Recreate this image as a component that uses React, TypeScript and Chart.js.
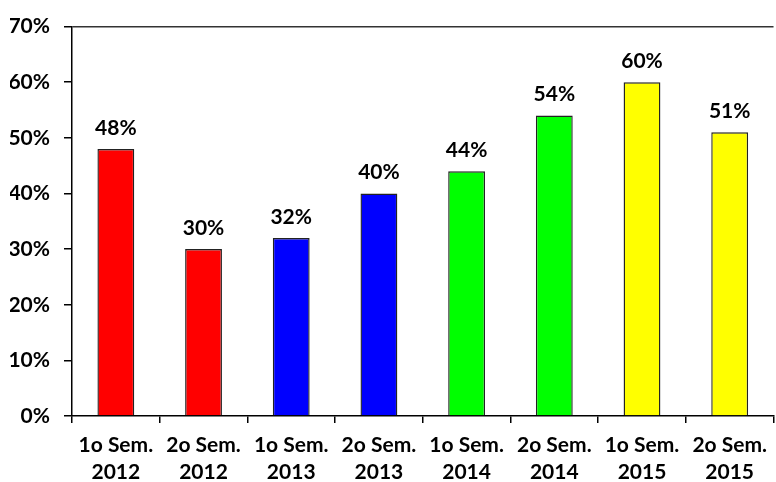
import React, { useEffect, useRef } from "react";
import { Chart, registerables } from "chart.js";

Chart.register(...registerables);

const categories: string[][] = [
  ["1o Sem.", "2012"],
  ["2o Sem.", "2012"],
  ["1o Sem.", "2013"],
  ["2o Sem.", "2013"],
  ["1o Sem.", "2014"],
  ["2o Sem.", "2014"],
  ["1o Sem.", "2015"],
  ["2o Sem.", "2015"],
];
const values: number[] = [48, 30, 32, 40, 44, 54, 60, 51];
const barColors: string[] = [
  "#FF0000", "#FF0000",
  "#0000FF", "#0000FF",
  "#00FF00", "#00FF00",
  "#FFFF00", "#FFFF00",
];
const yMax = 70;
const yStep = 10;

const FONT = "Lato, 'Open Sans', sans-serif";
const FSIZE = 21;

const valueLabels = {
  id: "valueLabels",
  afterDatasetsDraw(chart: any) {
    const { ctx } = chart;
    const meta = chart.getDatasetMeta(0);
    ctx.save();
    ctx.font = `bold ${FSIZE}px ${FONT}`;
    ctx.fillStyle = "#000";
    ctx.textAlign = "center";
    ctx.textBaseline = "middle";
    meta.data.forEach((bar: any, i: number) => {
      ctx.fillText(`${values[i]}%`, bar.x, bar.y - 21);
    });
    ctx.restore();
  },
};

export default function App() {
  const ref = useRef<HTMLCanvasElement | null>(null);
  useEffect(() => {
    if (!ref.current) return;
    const chart = new Chart(ref.current, {
      type: "bar",
      data: {
        labels: categories,
        datasets: [
          {
            data: values,
            backgroundColor: barColors,
            borderColor: "#222",
            borderWidth: 1.4,
            categoryPercentage: 1,
            barPercentage: 0.42,
          },
        ],
      },
      options: {
        animation: false,
        responsive: false,
        maintainAspectRatio: false,
        layout: { padding: { left: 10, right: 0, top: 24, bottom: 0 } },
        plugins: {
          legend: { display: false },
          tooltip: { enabled: false },
        },
        scales: {
          x: {
            afterFit: (s: any) => { s.height = 66; },
            grid: {
              display: true,
              drawOnChartArea: false,
              drawTicks: true,
              tickLength: 7,
              tickColor: "#000",
              lineWidth: 1.5,
              offset: true,
            },
            border: { display: true, color: "#000", width: 1.5 },
            ticks: {
              color: "#000",
              font: { family: FONT, size: FSIZE, weight: "bold", lineHeight: 27 / FSIZE },
              padding: 9,
              maxRotation: 0,
              autoSkip: false,
            },
          },
          y: {
            min: 0,
            max: yMax,
            afterFit: (s: any) => { s.width = 62; },
            grid: {
              color: (c: any) => (c.tick && c.tick.value === yMax ? "#333" : "rgba(0,0,0,0)"),
              drawTicks: true,
              tickLength: 8,
              tickColor: "#000",
              lineWidth: 1.5,
            },
            border: { display: true, color: "#000", width: 1.5 },
            ticks: {
              stepSize: yStep,
              color: "#000",
              font: { family: FONT, size: FSIZE, weight: "bold" },
              padding: 14,
              callback: (v: any) => `${v}%`,
            },
          },
        },
      },
      plugins: [valueLabels],
    });
    return () => chart.destroy();
  }, []);
  return (
    <div style={{ position: "fixed", left: 0, top: 0, width: 776, height: 482, background: "#fff" }}>
      <canvas ref={ref} width={776} height={482} style={{ width: 776, height: 482 }} />
    </div>
  );
}
